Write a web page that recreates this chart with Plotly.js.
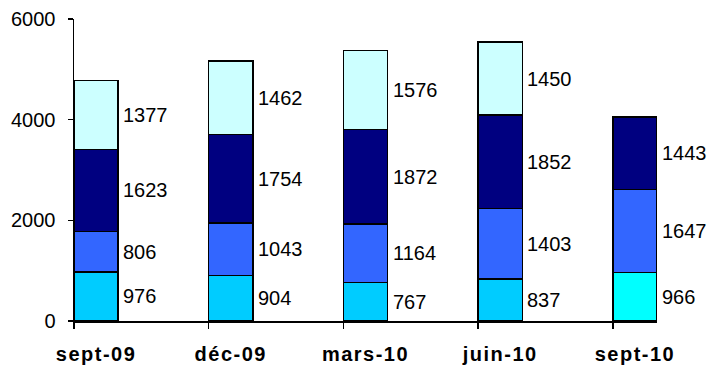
<!DOCTYPE html>
<html>
<head>
<meta charset="utf-8">
<script src="https://cdn.plot.ly/plotly-3.0.1.min.js"></script>
<style>
  html, body { margin: 0; padding: 0; background: #fff; }
  .xtick text { letter-spacing: 1.5px; }
</style>
</head>
<body>
<div id="chart" style="width:718px;height:371px;"></div>
<script>
// Quarterly stacked totals, four components per quarter
const periods = ['sept-09', 'déc-09', 'mars-10', 'juin-10', 'sept-10'];
const seriesA = [976, 904, 767, 837, 966];
const seriesB = [806, 1043, 1164, 1403, 1647];
const seriesC = [1623, 1754, 1872, 1852, 1443];
const seriesD = [1377, 1462, 1576, 1450, null];
const yTicks = [0, 2000, 4000, 6000];

const colorsA = ['#00CCFF', '#00CCFF', '#00CCFF', '#00CCFF', '#00FFFF'];
const colorB = '#3366FF';
const colorC = '#000080';
const colorD = '#CCFFFF';

const barWidth = 0.327;
const pos = periods.map((_, i) => i);
const FONT = 'Liberation Sans, Arial, sans-serif';

const stack = [
  { values: seriesA, color: colorsA },
  { values: seriesB, color: colorB },
  { values: seriesC, color: colorC },
  { values: seriesD, color: colorD }
];

const traces = stack.map(s => ({
  type: 'bar',
  x: pos,
  y: s.values,
  offset: 0,
  width: barWidth,
  marker: { color: s.color, line: { color: '#000', width: 1.5 } },
  hoverinfo: 'skip'
}));

// value labels to the right of each segment, vertically centred on it
const annotations = [];
const base = pos.map(() => 0);
stack.forEach(s => {
  s.values.forEach((v, i) => {
    if (v == null) return;
    annotations.push({
      x: i + barWidth, y: base[i] + v / 2,
      xref: 'x', yref: 'y',
      text: String(v),
      showarrow: false,
      xanchor: 'left', yanchor: 'middle',
      xshift: 3,
      font: { family: FONT, size: 20, color: '#000' }
    });
    base[i] += v;
  });
});

const layout = {
  width: 718,
  height: 371,
  margin: { l: 74, r: 61, t: 19, b: 50, pad: 0 },
  paper_bgcolor: '#fff',
  plot_bgcolor: '#fff',
  barmode: 'stack',
  showlegend: false,
  xaxis: {
    range: [0, pos.length - 1 + barWidth],
    tickmode: 'array',
    tickvals: pos.map(i => i + barWidth / 2),
    ticktext: periods,
    ticks: '',
    tickfont: { family: FONT, size: 20, color: '#000', weight: 'bold' },
    ticklabelstandoff: 14,
    minor: { tickmode: 'array', tickvals: pos, ticks: 'outside', ticklen: 6, tickwidth: 1.5, tickcolor: '#000', showgrid: false },
    showline: true, linecolor: '#000', linewidth: 1.5,
    showgrid: false, zeroline: false, fixedrange: true
  },
  yaxis: {
    range: [0, 6000],
    tickmode: 'array',
    tickvals: yTicks,
    ticks: 'outside', ticklen: 5, tickwidth: 1.5, tickcolor: '#000',
    tickfont: { family: FONT, size: 20, color: '#000' },
    ticklabelstandoff: 8,
    showline: true, linecolor: '#000', linewidth: 1.5,
    showgrid: false, zeroline: false, fixedrange: true
  },
  annotations: annotations
};

Plotly.newPlot('chart', traces, layout, { displayModeBar: false, staticPlot: true });
</script>
</body>
</html>
